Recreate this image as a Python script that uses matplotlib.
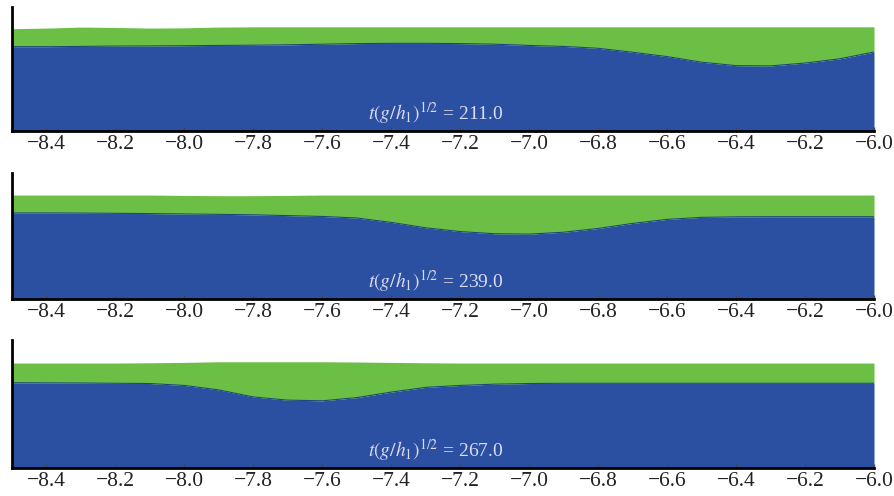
import numpy as np
import matplotlib
matplotlib.use("Agg")
import matplotlib.pyplot as plt

plt.rcParams['font.family'] = ['Liberation Serif', 'DejaVu Serif']
plt.rcParams['mathtext.fontset'] = 'stix'

x = [-8.5, -8.4, -8.3, -8.2, -8.1, -8.0, -7.9, -7.8, -7.7, -7.6, -7.5, -7.4, -7.3,
     -7.2, -7.1, -7.0, -6.9, -6.8, -6.7, -6.6, -6.5, -6.4, -6.3, -6.2, -6.1, -6.0]

times = ["211.0", "239.0", "267.0"]

surface_211 = [0.825, 0.83, 0.838, 0.835, 0.83, 0.832, 0.838, 0.84, 0.84, 0.84, 0.84, 0.84, 0.84,
               0.84, 0.84, 0.84, 0.84, 0.84, 0.84, 0.84, 0.84, 0.84, 0.84, 0.84, 0.84, 0.84]
interface_211 = [0.68, 0.68, 0.682, 0.685, 0.686, 0.688, 0.69, 0.692, 0.695, 0.70, 0.705, 0.707, 0.707,
                 0.705, 0.70, 0.69, 0.682, 0.667, 0.635, 0.60, 0.555, 0.527, 0.525, 0.548, 0.582, 0.637]

surface_239 = [0.825, 0.825, 0.825, 0.825, 0.825, 0.822, 0.82, 0.82, 0.822, 0.825, 0.825, 0.825, 0.825,
               0.825, 0.825, 0.825, 0.825, 0.825, 0.825, 0.825, 0.825, 0.825, 0.825, 0.825, 0.825, 0.825]
interface_239 = [0.683, 0.683, 0.682, 0.68, 0.678, 0.675, 0.672, 0.668, 0.662, 0.655, 0.643, 0.608, 0.565,
                 0.535, 0.518, 0.515, 0.53, 0.56, 0.60, 0.632, 0.648, 0.652, 0.653, 0.653, 0.653, 0.653]

surface_267 = [0.82, 0.82, 0.82, 0.82, 0.822, 0.825, 0.83, 0.83, 0.83, 0.83, 0.828, 0.825, 0.822,
               0.82, 0.82, 0.82, 0.82, 0.82, 0.82, 0.82, 0.82, 0.82, 0.82, 0.82, 0.82, 0.82]
interface_267 = [0.666, 0.665, 0.664, 0.662, 0.66, 0.645, 0.61, 0.555, 0.53, 0.525, 0.55, 0.593, 0.63,
                 0.645, 0.655, 0.66, 0.662, 0.662, 0.662, 0.662, 0.662, 0.662, 0.662, 0.662, 0.662, 0.662]

tick_values = [-8.4, -8.2, -8.0, -7.8, -7.6, -7.4, -7.2, -7.0, -6.8, -6.6, -6.4, -6.2, -6.0]

surfaces = [surface_211, surface_239, surface_267]
interfaces = [interface_211, interface_239, interface_267]

blue = '#2b50a2'
green = '#6cbf45'
edge = '#1d4a7a'

fig = plt.figure(figsize=(8.95, 4.96), dpi=100)
W, H = 895, 496
panels = [(7, 131), (173, 299), (340, 468)]
left_px, right_px = 12, 874

for (top, bot), surf, intf, t in zip(panels, surfaces, interfaces, times):
    ax = fig.add_axes([left_px / W, 1 - bot / H, (right_px - left_px) / W, (bot - top) / H])
    ax.fill_between(x, 0, intf, color=blue, lw=0)
    ax.fill_between(x, intf, surf, color=green, lw=0)
    ax.plot(x, intf, color=edge, lw=0.8)
    ax.set_xlim(-8.5, -6.0)
    ax.set_ylim(0, 1)
    ax.set_yticks([])
    ax.set_xticks(tick_values)
    ax.set_xticklabels([("\u2212%.1f" % abs(v)) for v in tick_values])
    ax.tick_params(axis='x', direction='in', length=3, width=1, color='#444444',
                   labelsize=15.5, pad=3, labelcolor='#222222')
    for s in ['top', 'right']:
        ax.spines[s].set_visible(False)
    ax.spines['left'].set_linewidth(2)
    ax.spines['bottom'].set_linewidth(2)
    ax.spines['left'].set_color('black')
    ax.spines['bottom'].set_color('black')
    ax.text(0.413, 0.04, r'$t(g/h_1)^{1/2}$' + ' = ' + t, transform=ax.transAxes,
            ha='left', va='bottom', fontsize=14, color='#dcdcf2')

fig.savefig('out.png', dpi=100, facecolor='white')
